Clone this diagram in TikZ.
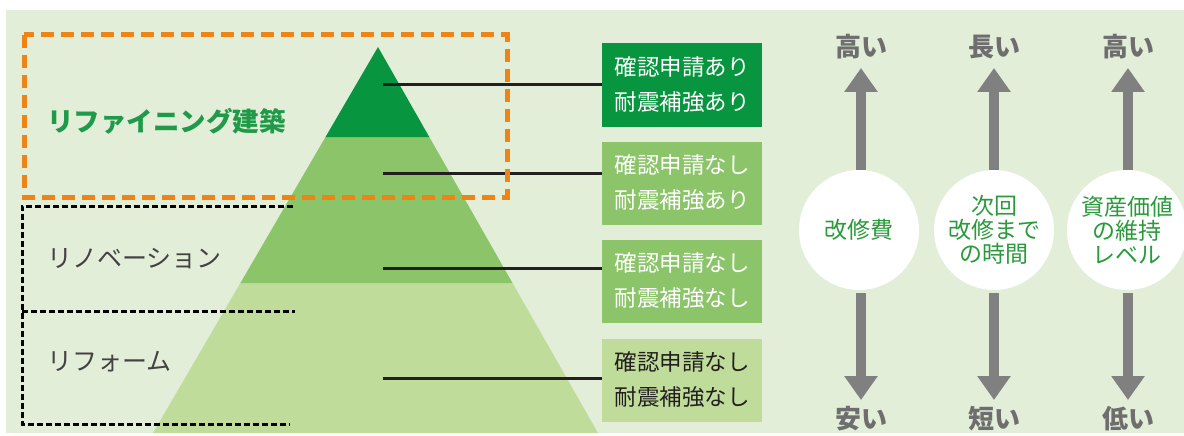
\documentclass[tikz,border=0pt]{standalone}
\usepackage{fontspec}
\setmainfont{Noto Sans CJK JP}
\usetikzlibrary{arrows.meta}
\definecolor{bgg}{HTML}{E2EED8}
\definecolor{dg}{HTML}{07953F}
\definecolor{mg}{HTML}{8CC46A}
\definecolor{lg}{HTML}{C0DC9A}
\definecolor{og}{HTML}{EE8415}
\definecolor{tg}{HTML}{1E9A48}
\definecolor{cg}{HTML}{2B9A3C}
\definecolor{ag}{HTML}{808080}
\definecolor{lgray}{HTML}{6E6E6E}
\definecolor{dk}{HTML}{231F20}
\tikzset{
  infobox/.style={minimum width=160pt,minimum height=83pt,inner sep=0pt,align=center,font=\fontsize{22.5}{35}\selectfont},
  conn/.style={draw=dk,line width=3pt},
  circ/.style={circle,fill=white,minimum size=120pt,inner sep=0pt,align=center,text=cg,font=\fontsize{23}{24}\selectfont},
  endlabel/.style={text=lgray,font=\fontsize{26}{26}\selectfont\bfseries,inner sep=0pt},
  bigarrow/.style={draw=ag,line width=10pt,-{Triangle[width=32pt,length=24pt]}},
  dotline/.style={draw=black,line width=3pt,dash pattern=on 6pt off 3pt},
}
\begin{document}
\begin{tikzpicture}[x=1pt,y=-1pt]
\useasboundingbox (0,0) rectangle (1184,436);
\fill[white] (0,0) rectangle (1184,436);
\fill[bgg] (6,10) rectangle (1184,433);
% pyramid
\fill[lg] (240.4,283) -- (512.5,283) -- (598,433) -- (153,433) -- cycle;
\fill[mg] (325.5,137) -- (429.3,137) -- (512.5,283) -- (240.4,283) -- cycle;
\fill[dg] (378,47) -- (429.3,137) -- (325.5,137) -- cycle;
% boxes
\node[infobox,fill=dg,text=white] (b1) at (682,85) {確認申請あり\\耐震補強あり};
\node[infobox,fill=mg,text=white] (b2) at (682,183) {確認申請なし\\耐震補強あり};
\node[infobox,fill=mg,text=white] (b3) at (682,281) {確認申請なし\\耐震補強なし};
\node[infobox,fill=lg,text=dk] (b4) at (682,380) {確認申請なし\\耐震補強なし};
\coordinate (p1) at (383,85);
\coordinate (p2) at (383,173);
\coordinate (p3) at (383,268);
\coordinate (p4) at (383,378);
\draw[conn] (p1) -- (p1 -| b1.west);
\draw[conn] (p2) -- (p2 -| b2.west);
\draw[conn] (p3) -- (p3 -| b3.west);
\draw[conn] (p4) -- (p4 -| b4.west);
% orange dashed frame
\draw[og,line width=5pt,dash pattern=on 13pt off 7pt] (24,35) rectangle (507,197);
% dotted frames
\draw[dotline] (293,206) -- (22,206) -- (22,424) -- (290,424);
\draw[dotline] (22,311) -- (295,311);
% labels
\node[anchor=west,text=tg,font=\fontsize{26.5}{27}\selectfont\bfseries,inner sep=0pt] (rf) at (47,121) {リファイニング建築};
\node[anchor=west,text=dk!85,font=\fontsize{25}{25}\selectfont,inner sep=0pt] (rn) at (47,259) {リノベーション};
\node[anchor=west,text=dk!85,font=\fontsize{25}{25}\selectfont,inner sep=0pt] (rm) at (47,362) {リフォーム};
% right side
\node[circ] (c1) at (859,230) {改修費};
\node[circ] (c2) at (994,230) {次回\\改修まで\\の時間};
\node[circ] (c3) at (1127,230) {資産価値\\の維持\\レベル};
\node[endlabel] (u1) at (861,47) {高い};
\node[endlabel] (u2) at (994,47) {長い};
\node[endlabel] (u3) at (1128,47) {高い};
\node[endlabel] (l1) at (861,419) {安い};
\node[endlabel] (l2) at (994,419) {短い};
\node[endlabel] (l3) at (1128,419) {低い};
\coordinate (a1s) at (861,170); \coordinate (a1e) at (861,68);
\coordinate (a2s) at (994,170); \coordinate (a2e) at (994,68);
\coordinate (a3s) at (1128,170); \coordinate (a3e) at (1128,68);
\coordinate (d1s) at (861,293); \coordinate (d1e) at (861,400);
\coordinate (d2s) at (994,293); \coordinate (d2e) at (994,400);
\coordinate (d3s) at (1128,293); \coordinate (d3e) at (1128,400);
\draw[bigarrow] (a1s) -- (a1e);
\draw[bigarrow] (a2s) -- (a2e);
\draw[bigarrow] (a3s) -- (a3e);
\draw[bigarrow] (d1s) -- (d1e);
\draw[bigarrow] (d2s) -- (d2e);
\draw[bigarrow] (d3s) -- (d3e);
\end{tikzpicture}
\end{document}
